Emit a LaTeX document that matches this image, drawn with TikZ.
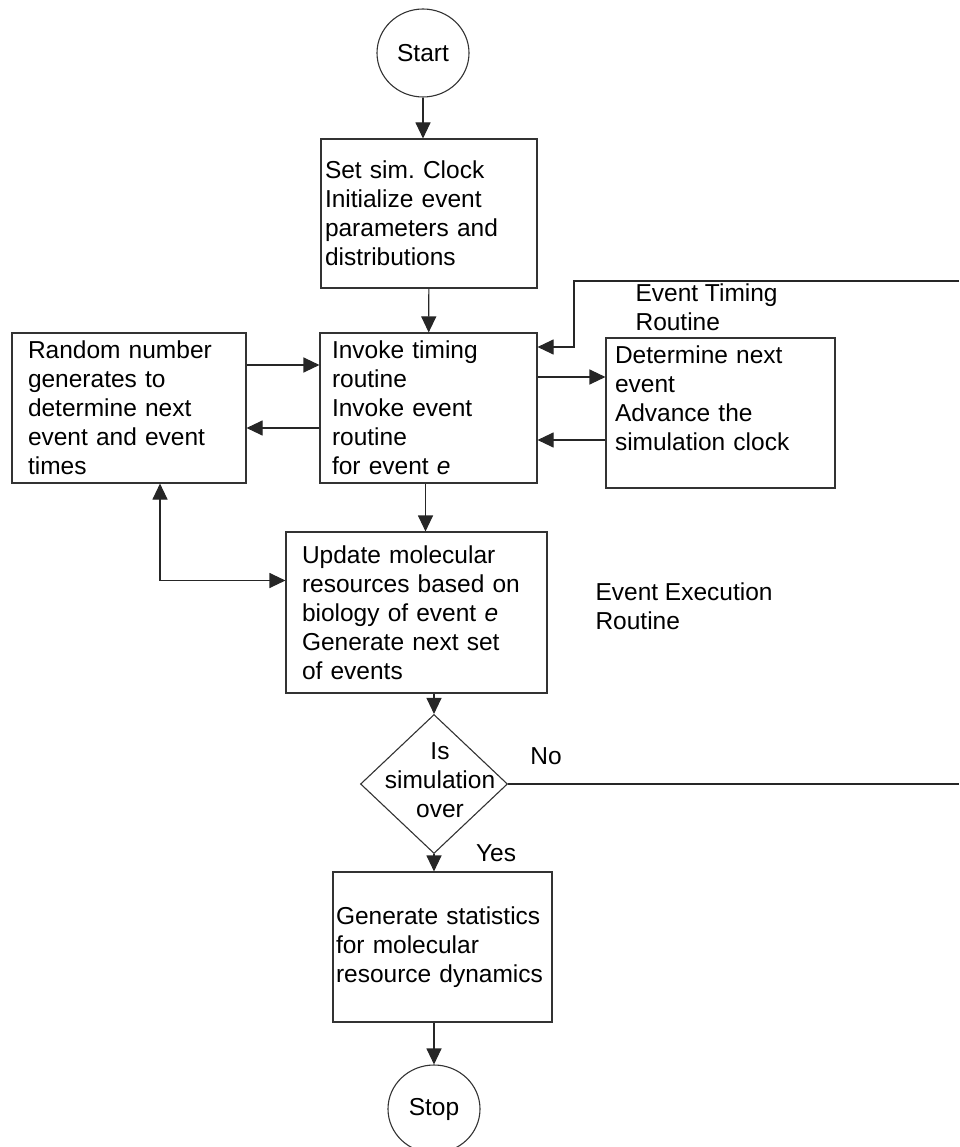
\documentclass[tikz,border=0pt]{standalone}
\usepackage{fontspec}
\setmainfont{Liberation Sans}
\usetikzlibrary{arrows.meta,shapes.geometric}
\frenchspacing
\begin{document}
\begin{tikzpicture}[x=1pt, y=-1pt, line width=1.1pt,
    every node/.style={font=\fontsize{24.5}{29}\selectfont},
    box/.style={draw=black!80, rectangle, align=left, inner ysep=0pt},
    term/.style={draw=black!80, ellipse, minimum width=92pt, minimum height=88pt, inner sep=0pt},
    decision/.style={draw=black!80, diamond, minimum width=147pt, minimum height=139pt, inner sep=0pt},
    lbl/.style={inner sep=0pt, align=left},
    arr/.style={draw=black!85, -{Triangle[length=16pt,width=15pt]}},
    biarr/.style={draw=black!85, {Triangle[length=16pt,width=15pt]}-{Triangle[length=16pt,width=15pt]}},
    plain/.style={draw=black!85}]
  \useasboundingbox (0,0) rectangle (959,1147);
  \node[term] (start) at (423,53) {Start};
  \node[box, inner xsep=4pt, text width=208pt, minimum height=149pt] (setclock) at (429,213.5)
    {Set sim. Clock\\Initialize event\\parameters and\\distributions};
  \node[box, inner xsep=12pt, text width=193pt, minimum height=150pt] (invoke) at (428.5,408)
    {Invoke timing\\routine\\Invoke event\\routine\\for event \textit{e}};
  \node[box, inner xsep=16pt, text width=202pt, minimum height=150pt] (random) at (129,408)
    {Random number\\generates to\\determine next\\event and event\\times};
  \node[box, inner xsep=9pt, text width=211pt, minimum height=150pt] (timing) at (720.5,413)
    {Determine next\\event\\Advance the\\simulation clock\\\mbox{}};
  \node[box, inner xsep=16pt, text width=229pt, minimum height=161pt] (update) at (416.5,612.5)
    {Update molecular\\resources based on\\biology of event \textit{e}\\Generate next set\\of events};
  \node[decision] (check) at (434,784) {};
  \node[lbl, align=center] (checktext) at (440,780) {Is\\simulation\\over};
  \node[box, inner xsep=3pt, text width=213pt, minimum height=150pt] (report) at (442.5,947)
    {Generate statistics\\for molecular\\resource dynamics};
  \node[term] (stop) at (434,1109) {Stop};

  \node[lbl, anchor=west] (timinglabel) at (635,307.5) {Event Timing\\Routine};
  \node[lbl, anchor=west] (execlabel) at (595,606.5) {Event Execution\\Routine};
  \node[lbl] (nolabel) at (546,756) {No};
  \node[lbl] (yeslabel) at (496,853) {Yes};

  \coordinate (loopin) at (959,281);
  \coordinate (loopbend) at (574,347);
  \coordinate (noout) at (959,784);

  \draw[arr] (start) -- (start |- setclock.north);
  \draw[arr] (setclock) -- (invoke);
  \draw[arr] ([yshift=43pt]random.east) -- ([yshift=43pt]random.east -| invoke.west);
  \draw[arr] ([yshift=-20pt]invoke.west) -- ([yshift=-20pt]invoke.west -| random.east);
  \draw[arr] ([yshift=31pt]invoke.east) -- ([yshift=31pt]invoke.east -| timing.west);
  \draw[arr] ([yshift=-27pt]timing.west) -- ([yshift=-27pt]timing.west -| invoke.east);
  \draw[arr] (loopin) -| (loopbend) -- (loopbend -| invoke.east);
  \draw[arr] ([xshift=-3pt]invoke.south) -- ([xshift=-3pt]invoke.south |- update.north);
  \draw[biarr] ([xshift=31pt]random.south) |- ([yshift=32pt]update.west);
  \draw[arr] (update.south -| check) -- (check.north);
  \draw[plain] (check.east) -- (noout);
  \draw[arr] (check.south) -- (report.north -| check);
  \draw[arr] (report.south -| stop) -- (stop.north);
\end{tikzpicture}
\end{document}
